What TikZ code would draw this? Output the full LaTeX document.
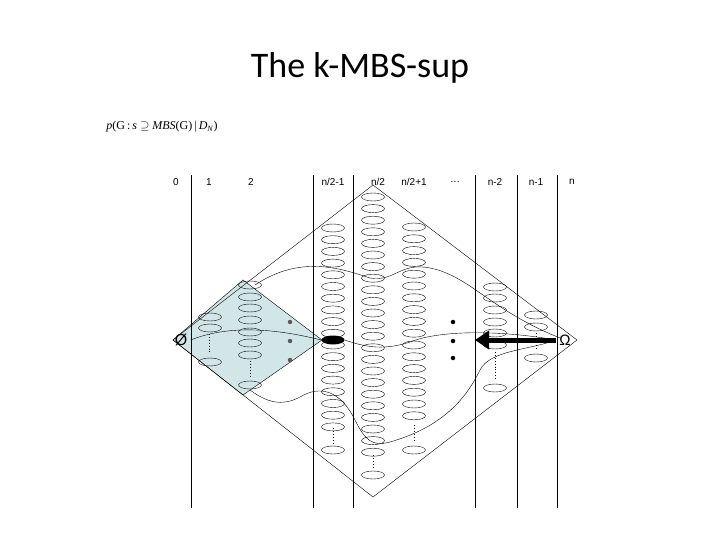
\documentclass[tikz,border=0pt]{standalone}
\usepackage{fontspec}
\setmainfont{Carlito}
\newfontfamily\arialf{Liberation Sans}
\newfontfamily\timesf{Liberation Serif}
\usetikzlibrary{shapes.geometric,arrows.meta}
\definecolor{paleblue}{RGB}{210,230,232}
\begin{document}
\begin{tikzpicture}[x=1pt,y=-1pt,
  ell/.style={draw,ellipse,line width=0.4pt,minimum width=23pt,minimum height=8pt,inner sep=0pt},
  vl/.style={line width=0.6pt},
  lab/.style={font=\arialf\fontsize{10}{11}\selectfont},
  dt/.style={circle,fill,inner sep=0pt,minimum size=4.5pt},
  crv/.style={line width=0.4pt}]
\useasboundingbox (0,0) rectangle (720,540);
\node (title) at (360,68) {\fontsize{36}{40}\selectfont The k-MBS-sup};
\node[font=\timesf\fontsize{12}{14}\selectfont] (form) at (162,127) {\textit{p}(G\,:\,\textit{s} $\supseteq$ \textit{MBS}(G)\,|\,\textit{D}\textsubscript{\textit{N}})};
% shaded diamond
\fill[paleblue] (173,340) -- (243,280) -- (322,340) -- (243,395) -- cycle;
\draw[line width=0.4pt] (173,340) -- (243,280) -- (322,340) -- (243,395) -- cycle;
% big diamond
\draw[line width=0.4pt] (173,340) -- (373,185) -- (577,340) -- (373,497) -- cycle;
% vertical lines
\foreach \x in {191,313,353,475,517,557} \draw[vl] (\x,175) -- (\x,508);
% labels
\node[lab] (l0) at (176,182) {0};
\node[lab] (l1) at (209,182) {1};
\node[lab] (l2) at (251,182) {2};
\node[lab] (l3) at (333,182) {n/2-1};
\node[lab] (l4) at (378,182) {n/2};
\node[lab] (l5) at (414,182) {n/2+1};
\node[lab] (l6) at (455,182) {\dots};
\node[lab] (l7) at (495,182) {n-2};
\node[lab] (l8) at (536,182) {n-1};
\node[lab] (l9) at (572,182) {n};
% col 1
\foreach \y [count=\i] in {317,328,362} \node[ell] (ca\i) at (210,\y) {};
\draw[dotted,line width=0.9pt] (209,334) -- (209,354);
% col 2
\foreach \y [count=\i] in {285,297,308,320,332,343,355,385} \node[ell] (cb\i) at (250,\y) {};
\draw[dotted,line width=0.9pt] (250,361) -- (250,378);
% col n/2-1
\foreach \i in {0,...,17} \node[ell] (cc\i) at (333,{228+\i*11.7}) {};
\node[ell] (cclast) at (333,450) {};
\draw[dotted,line width=0.9pt] (333,428) -- (333,443);
\node[ellipse,fill,minimum width=23pt,minimum height=9pt,inner sep=0pt] (blk) at (333,340) {};
% col n/2
\foreach \i in {0,...,22} \node[ell] (cd\i) at (373,{197+\i*11.6}) {};
\node[ell] (cdlast) at (373,475) {};
\draw[dotted,line width=0.9pt] (373,455) -- (373,468);
% col n/2+1
\foreach \i in {0,...,16} \node[ell] (ce\i) at (414,{227+\i*11.8}) {};
\node[ell] (celast) at (414,450) {};
\draw[dotted,line width=0.9pt] (414,425) -- (414,442);
% col n-2
\foreach \y [count=\i] in {287,298,310,322,333,345,388} \node[ell] (cf\i) at (495,\y) {};
\draw[dotted,line width=0.9pt] (495,352) -- (495,380);
% col n-1
\foreach \y [count=\i] in {315,327,358} \node[ell] (cg\i) at (536,\y) {};
\draw[dotted,line width=0.9pt] (536,333) -- (536,350);
% dots
\foreach \y [count=\i] in {322,341,360} \node[dt,fill=black!65] (da\i) at (290,\y) {};
\foreach \y [count=\i] in {322,341,358} \node[dt] (db\i) at (453,\y) {};
% symbols
\node[font=\arialf\fontsize{16}{17}\selectfont] (empty) at (181,340) {Ø};
\node[font=\arialf\fontsize{15}{16}\selectfont] (omega) at (565,340) {Ω};
\coordinate (arrE) at (475,340);
\draw[line width=5pt,-{Triangle[length=14pt,width=18pt]}] (omega.west) -- (arrE);
% curves
\draw[crv] (255,285) .. controls (300,255) and (340,268) .. (370,278) .. controls (395,282) and (400,262) .. (430,268) .. controls (470,276) and (490,310) .. (560,338);
\draw[crv] (empty.east) .. controls (240,320) and (300,335) .. (blk.west);
\draw[crv] (blk.east) .. controls (360,345) and (380,352) .. (410,342) .. controls (440,330) and (500,330) .. (omega.west);
\draw[crv] (250,390) .. controls (270,405) and (285,405) .. (300,397) .. controls (320,385) and (340,390) .. (355,420) .. controls (365,440) and (372,447) .. (390,442) .. controls (450,425) and (470,390) .. (480,370) .. controls (490,350) and (530,350) .. (omega.west);
\end{tikzpicture}
\end{document}
